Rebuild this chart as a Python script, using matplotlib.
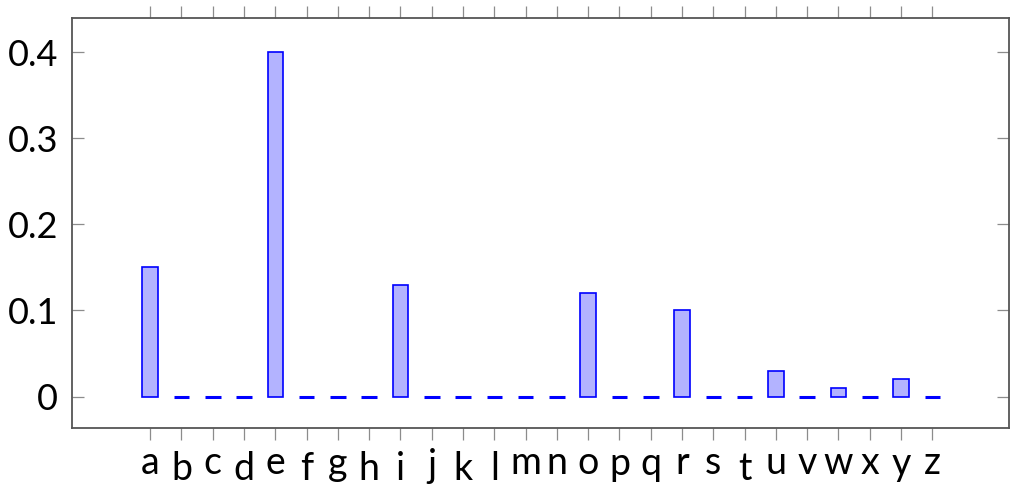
import matplotlib
matplotlib.use('Agg')
import matplotlib.pyplot as plt
from matplotlib.transforms import ScaledTranslation

# ── Data ──────────────────────────────────────────────────────────────────────
letters = list('abcdefghijklmnopqrstuvwxyz')
freq = [0.15, 0, 0, 0, 0.40, 0, 0, 0, 0.13, 0, 0, 0, 0, 0,
        0.12, 0, 0, 0.10, 0, 0, 0.03, 0, 0.01, 0, 0.02, 0]
y_ticks = [0, 0.1, 0.2, 0.3, 0.4]
y_labels = ['0', '0.1', '0.2', '0.3', '0.4']

# ── Style ─────────────────────────────────────────────────────────────────────
C_FILL = '#b3b3ff'
C_EDGE = '#0000ff'
C_SPINE = '#555555'
C_TICK = '#8c8c8c'

fig = plt.figure(figsize=(10.11, 4.88), dpi=100, facecolor='white')
ax = fig.add_axes([72 / 1011, 1 - 428 / 488, 937 / 1011, 410 / 488])

x = list(range(len(letters)))
# empty bars show up as a heavier flat stroke in the original
lws = [1.2 if v else 2.2 for v in freq]
ax.bar(x, freq, width=0.5, color=C_FILL, edgecolor=C_EDGE, linewidth=lws, zorder=2)

ax.set_xlim(-2.5, 27.45)
ax.set_ylim(-0.0366, 0.44)

ax.set_xticks(x)
ax.set_xticklabels(letters, family=['Lato'], fontsize=27)
ax.set_yticks(y_ticks)
ax.set_yticklabels(y_labels, family=['Lato'], fontsize=26)

for s in ax.spines.values():
    s.set_color(C_SPINE)
    s.set_linewidth(1.3)

ax.tick_params(axis='x', direction='out', top=True, bottom=True, length=8.5,
               width=0.9, color=C_TICK, pad=4, labelcolor='black')
ax.tick_params(axis='y', direction='in', left=True, right=True, length=8.5,
               width=0.9, color=C_TICK, pad=10, labelcolor='black')

# labels sit at uneven heights in the original (tall letters lower)
shift_px = {}
for ch in 'bdfhiklt':
    shift_px[ch] = 6
for ch in 'gpqy':
    shift_px[ch] = 1
shift_px['j'] = 3
for lab in ax.get_xticklabels():
    dy = shift_px.get(lab.get_text(), 0)
    if dy:
        lab.set_transform(lab.get_transform() +
                          ScaledTranslation(0, -dy / 100, fig.dpi_scale_trans))

fig.savefig('out.png', dpi=100, facecolor='white')
